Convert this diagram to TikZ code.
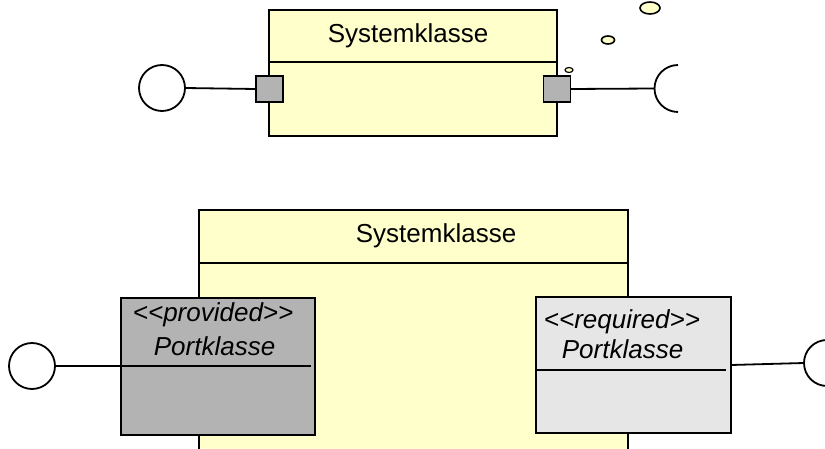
\documentclass[tikz,border=0pt]{standalone}
\usepackage{fontspec}
\setmainfont{Liberation Sans}
\usetikzlibrary{shapes.geometric}
\definecolor{sysyellow}{HTML}{FFFFCC}
\definecolor{provgray}{HTML}{B3B3B3}
\definecolor{reqgray}{HTML}{E6E6E6}
\begin{document}
\begin{tikzpicture}[x=1pt,y=-1pt, line width=1.8pt,
  sysbox/.style={draw=black, fill=sysyellow, rectangle, inner sep=0pt, outer sep=0pt},
  portsq/.style={draw=black, fill=provgray, rectangle, minimum width=27pt, minimum height=26pt, inner sep=0pt, outer sep=0pt},
  portclass/.style={draw=black, rectangle, inner sep=0pt, outer sep=0pt},
  iface/.style={draw=black, fill=white, circle, minimum size=46pt, inner sep=0pt, outer sep=0pt},
  lbl/.style={font=\fontsize{26}{30}\selectfont, inner sep=0pt, anchor=base west},
  ilbl/.style={font=\fontsize{26}{30}\selectfont\itshape, inner sep=0pt, anchor=base west},
  conn/.style={draw=black, line width=1.8pt},
  bubble/.style={draw=black, fill=sysyellow, ellipse, inner sep=0pt, line width=1.6pt}
]
\fill[white] (0,0) rectangle (825,449);
\useasboundingbox (0,0) rectangle (825,449);
\begin{scope}
\clip (0,0) rectangle (825,449);

% ---------- top diagram ----------
\node[sysbox, minimum width=288pt, minimum height=126pt] (sysA) at (413,73) {};
\draw[conn] (269,62) -- (557,62);
\node[lbl] (sysAname) at (327,43) {Systemklasse};

\node[portsq] (portL) at (269.5,89) {};
\node[portsq] (portR) at (557,89) {};

\node[iface] (ifL) at (162,88) {};
\draw[conn] (ifL.east) -- (portL.west);

\coordinate (reqA) at (654.5,88.5);
\draw[conn] (portR.east) -- (reqA);
\draw[conn] (reqA) arc[start angle=180, end angle=90, radius=23.5];
\draw[conn] (reqA) arc[start angle=180, end angle=270, radius=23.5];

\node[bubble, minimum width=20pt, minimum height=12pt] (b1) at (650,8) {};
\node[bubble, minimum width=13pt, minimum height=8pt] (b2) at (608,40) {};
\node[bubble, minimum width=8pt, minimum height=5pt, line width=1.2pt] (b3) at (569,70) {};

% ---------- bottom diagram ----------
\fill[sysyellow] (199,210) rectangle (628,452);
\draw[conn] (199,452) -- (199,210) -- (628,210) -- (628,452);
\draw[conn] (199,263) -- (628,263);
\node[lbl] (sysBname) at (355,243) {Systemklasse};

\node[portclass, fill=provgray, minimum width=194pt, minimum height=137pt] (prov) at (218,366.5) {};
\draw[conn] (121,366) -- (311,366);
\node[ilbl] (provSt) at (132,321) {<{}<provided>{}>};
\node[ilbl] (provNm) at (153,355) {Portklasse};

\node[iface] (ifP) at (32,366) {};
\draw[conn] (ifP.east) -- (ifP.east -| prov.west);

\node[portclass, fill=reqgray, minimum width=195pt, minimum height=136pt] (req) at (633.5,365) {};
\draw[conn] (536,370) -- (726,370);
\node[ilbl] (reqSt) at (543,328) {<{}<required>{}>};
\node[ilbl] (reqNm) at (561,358) {Portklasse};

\coordinate (reqB) at (804,363);
\draw[conn] (req.east) -- (reqB);
\draw[conn] (reqB) arc[start angle=180, end angle=90, radius=23];
\draw[conn] (reqB) arc[start angle=180, end angle=270, radius=23];
\end{scope}
\end{tikzpicture}
\end{document}
